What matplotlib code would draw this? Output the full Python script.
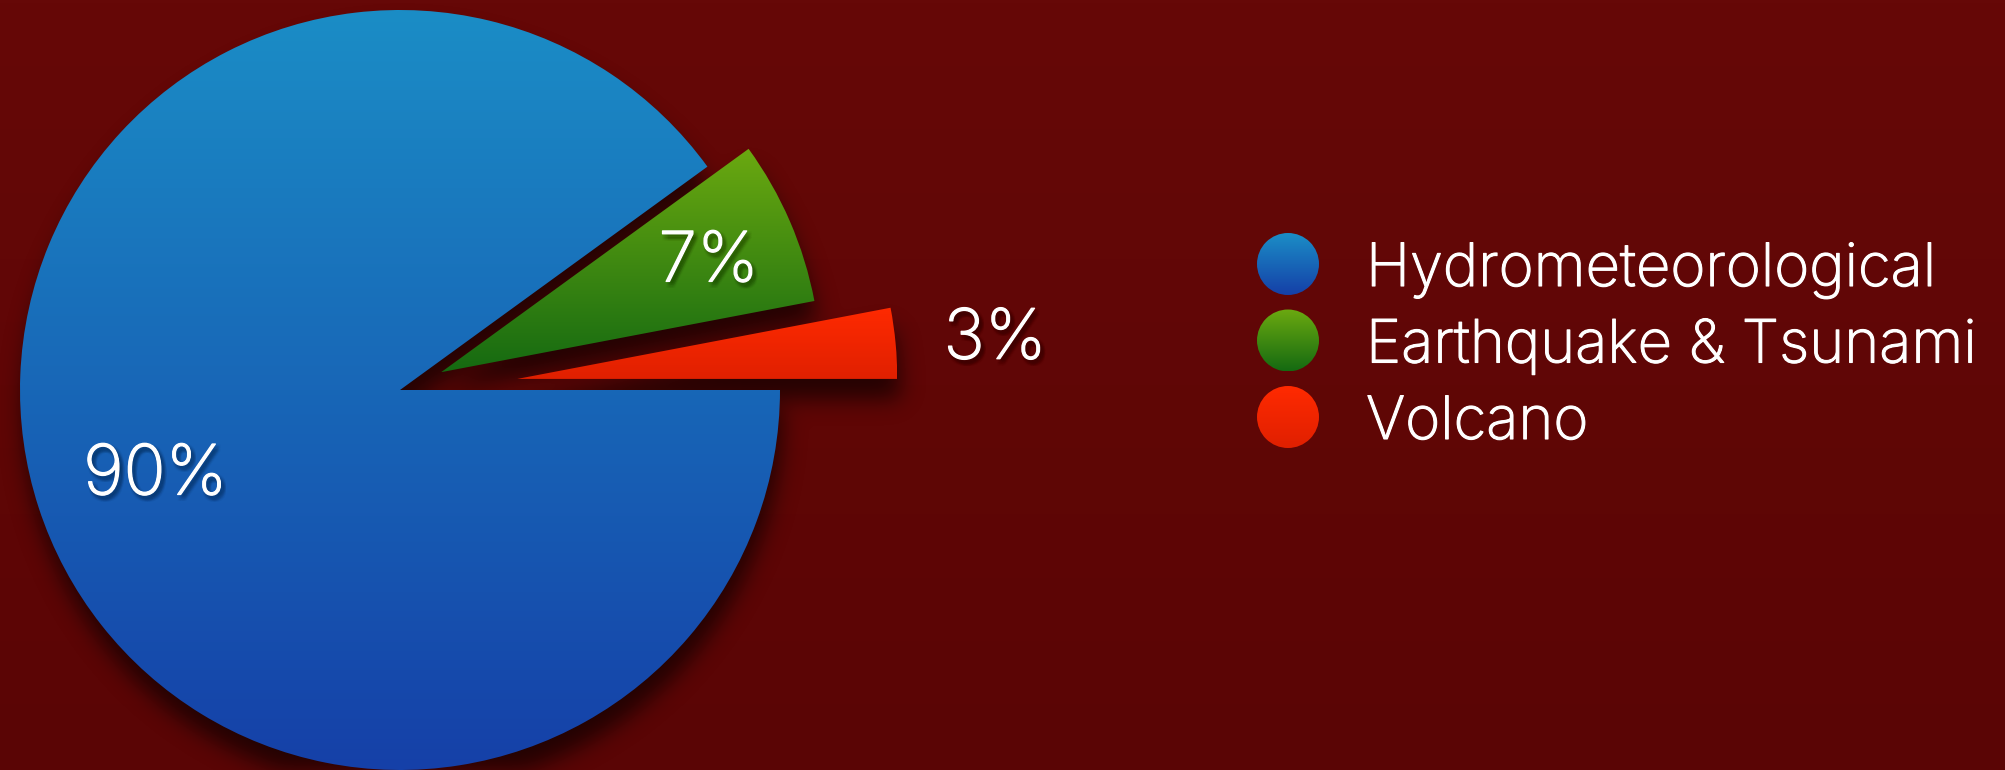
import matplotlib
matplotlib.use("Agg")
import matplotlib.pyplot as plt
import matplotlib.patheffects as pe
from matplotlib.colors import LinearSegmentedColormap
from matplotlib.patches import Circle
import numpy as np

# share of disasters by type
categories = ["Hydrometeorological", "Earthquake & Tsunami", "Volcano"]
shares = [90, 7, 3]

top_colors = ["#1b8dc6", "#6ba910", "#ff2a00"]
bottom_colors = ["#1540a8", "#156a12", "#e02000"]

W, H = 2006, 770
CX, CY, R = 400, 380, 380
explode = [0.0, 0.118 * R, 0.31 * R]
label_dist = [0.677, 0.767, 1.263]

plt.rcParams["font.family"] = ["Inter", "DejaVu Sans"]

fig = plt.figure(figsize=(W / 100, H / 100), dpi=100)
ax = fig.add_axes([0, 0, 1, 1])
ax.set_axis_off()

# background, slightly darker towards the bottom
bg = LinearSegmentedColormap.from_list("bg", ["#5a0505", "#660807"])
ax.imshow(np.linspace(0, 1, 256).reshape(-1, 1), cmap=bg, aspect="auto",
          extent=(0, W, 0, H), origin="lower", zorder=0)

wedges, _ = ax.pie(shares, radius=R, center=(CX, CY), explode=explode,
                   startangle=0, counterclock=False, frame=True,
                   wedgeprops=dict(linewidth=0))
ax.set_xlim(0, W)
ax.set_ylim(0, H)
ax.set_aspect("equal")

# soft drop shadow below the wedges
yy, xx = np.mgrid[0:H, 0:W] + 0.5
sdx, sdy = 3, 20
pts = np.column_stack([(xx - sdx).ravel(), (yy + sdy).ravel()])
mask = np.zeros(H * W)
for w in wedges:
    path = w.get_patch_transform().transform_path(w.get_path())
    mask = np.maximum(mask, path.contains_points(pts))
mask = mask.reshape(H, W)


def blur(img, sigma):
    r = int(3 * sigma)
    k = np.exp(-0.5 * (np.arange(-r, r + 1) / sigma) ** 2)
    k /= k.sum()
    img = np.apply_along_axis(lambda m: np.convolve(m, k, mode="same"), 0, img)
    img = np.apply_along_axis(lambda m: np.convolve(m, k, mode="same"), 1, img)
    return img


shadow = np.zeros((H, W, 4))
shadow[..., 3] = 0.62 * blur(mask, 11)
ax.imshow(shadow, extent=(0, W, 0, H), origin="lower", zorder=1,
          interpolation="bilinear")

# vertical gradient fill clipped to each wedge
for w, c0, c1 in zip(wedges, top_colors, bottom_colors):
    w.set_facecolor("none")
    w.set_zorder(2)
    x0, y0, x1, y1 = w.get_patch_transform().transform_path(w.get_path()).get_extents().extents
    cmap = LinearSegmentedColormap.from_list("g", [c1, c0])
    im = ax.imshow(np.linspace(0, 1, 256).reshape(-1, 1), cmap=cmap, aspect="auto",
                   extent=(x0, x1, y0, y1), origin="lower", zorder=2)
    im.set_clip_path(w)

# percentage labels with a soft shadow
steps = np.linspace(-2.0, 2.0, 5)
text_shadow = [pe.SimplePatchShadow(offset=(2.0 + dx, -2.6 + dy), shadow_rgbFace="black", alpha=0.028)
               for dx in steps for dy in steps]
text_shadow += [pe.withStroke(linewidth=0.9, foreground="white")]
for w, share, d in zip(wedges, shares, label_dist):
    th = np.deg2rad((w.theta1 + w.theta2) / 2)
    cx, cy = w.center
    tx = cx + d * R * np.cos(th)
    ty = cy + d * R * np.sin(th)
    ax.text(tx, ty - 25, f"{share}%", color="white", fontsize=50, fontweight="light",
            ha="center", va="baseline", zorder=5, path_effects=text_shadow)

# legend
for i, (name, c0, c1) in enumerate(zip(categories, top_colors, bottom_colors)):
    ly = H - 264 - i * 76.5
    circ = Circle((1288, ly), 31, facecolor="none", linewidth=0, zorder=3)
    ax.add_patch(circ)
    cmap = LinearSegmentedColormap.from_list("lg", [c1, c0])
    im = ax.imshow(np.linspace(0, 1, 64).reshape(-1, 1), cmap=cmap, aspect="auto",
                   extent=(1257, 1319, ly - 31, ly + 31), origin="lower", zorder=3)
    im.set_clip_path(circ)
    ax.text(1366, ly - 22, name, color="white", fontsize=43, fontweight="light",
            ha="left", va="baseline", zorder=5,
            path_effects=[pe.withStroke(linewidth=0.8, foreground="white")])

fig.savefig("out.png", dpi=100)
